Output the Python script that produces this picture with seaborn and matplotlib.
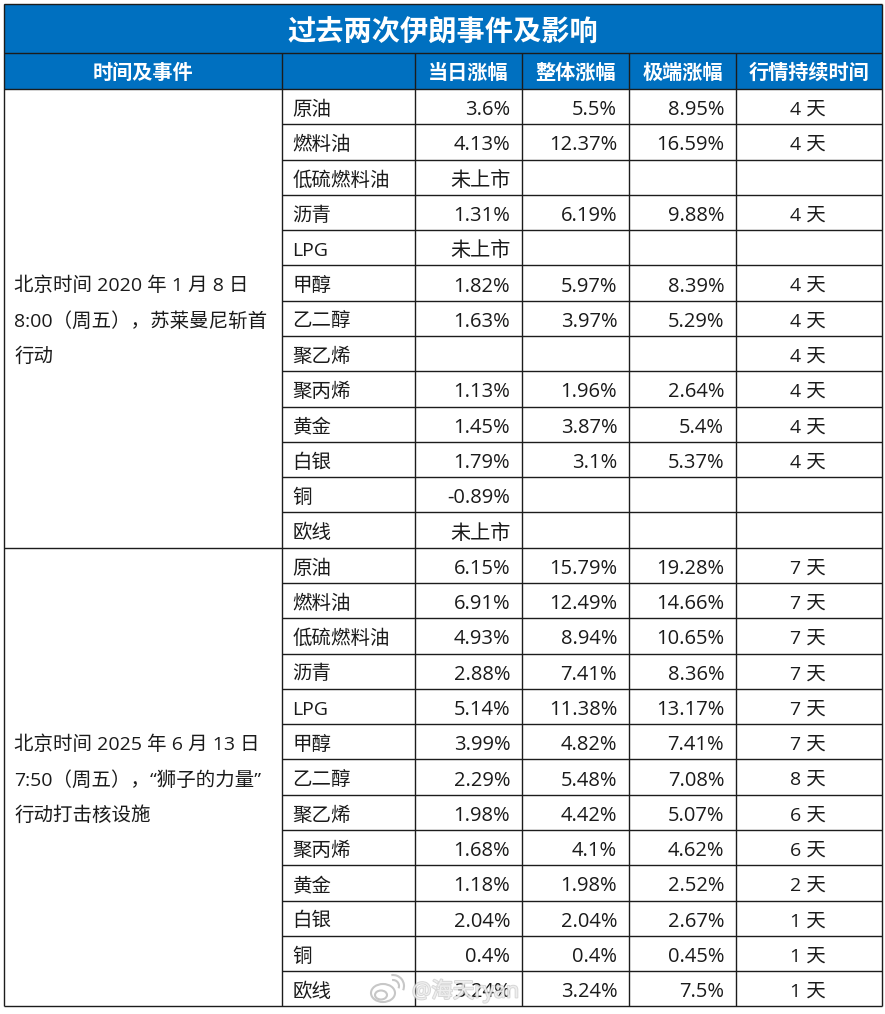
import numpy as np
import seaborn as sns
import matplotlib.pyplot as plt
import matplotlib.patheffects as pe
from matplotlib.colors import ListedColormap
from matplotlib.patches import Ellipse, Arc

# 数据
title = "过去两次伊朗事件及影响"
headers = ["时间及事件", "", "当日涨幅", "整体涨幅", "极端涨幅", "行情持续时间"]
event_1 = ["北京时间 2020 年 1 月 8 日", "8:00（周五），苏莱曼尼斩首", "行动"]
event_2 = ["北京时间 2025 年 6 月 13 日", "7:50（周五），“狮子的力量”", "行动打击核设施"]
products = ["原油", "燃料油", "低硫燃料油", "沥青", "LPG", "甲醇", "乙二醇",
            "聚乙烯", "聚丙烯", "黄金", "白银", "铜", "欧线"]

day_1 = ["3.6%", "4.13%", "未上市", "1.31%", "未上市", "1.82%", "1.63%",
         "", "1.13%", "1.45%", "1.79%", "-0.89%", "未上市"]
total_1 = ["5.5%", "12.37%", "", "6.19%", "", "5.97%", "3.97%",
           "", "1.96%", "3.87%", "3.1%", "", ""]
extreme_1 = ["8.95%", "16.59%", "", "9.88%", "", "8.39%", "5.29%",
             "", "2.64%", "5.4%", "5.37%", "", ""]
days_1 = ["4 天", "4 天", "", "4 天", "", "4 天", "4 天",
          "4 天", "4 天", "4 天", "4 天", "", ""]

day_2 = ["6.15%", "6.91%", "4.93%", "2.88%", "5.14%", "3.99%", "2.29%",
         "1.98%", "1.68%", "1.18%", "2.04%", "0.4%", "3.24%"]
total_2 = ["15.79%", "12.49%", "8.94%", "7.41%", "11.38%", "4.82%", "5.48%",
           "4.42%", "4.1%", "1.98%", "2.04%", "0.4%", "3.24%"]
extreme_2 = ["19.28%", "14.66%", "10.65%", "8.36%", "13.17%", "7.41%", "7.08%",
             "5.07%", "4.62%", "2.52%", "2.67%", "0.45%", "7.5%"]
days_2 = ["7 天", "7 天", "7 天", "7 天", "7 天", "7 天", "8 天",
          "6 天", "6 天", "2 天", "1 天", "1 天", "1 天"]

# 표 격자 (픽셀)
col_edges = [4, 282, 415, 522, 629, 736, 882]
n_body = len(products) * 2
row_edges = [4, 53, 89] + list(np.linspace(89, 1006.5, n_body + 1)[1:])

W, H = 885, 1014
BLUE = "#0070C0"
LINE = "#1c1c1c"
INK = "#1a1a1a"

sns.set_theme(style="white")
plt.rcParams["font.family"] = ["Open Sans", "Noto Sans CJK SC", "DejaVu Sans"]

fig = plt.figure(figsize=(W / 100, H / 100), dpi=100)
ax = fig.add_axes([col_edges[0] / W, 1 - row_edges[-1] / H,
                   (col_edges[-1] - col_edges[0]) / W,
                   (row_edges[-1] - row_edges[0]) / H])

# 배경 칠하기: 제목/헤더 행은 파란색
fill = np.zeros((n_body + 2, 6))
fill[:2, :] = 1
sns.heatmap(fill, ax=ax, cbar=False, cmap=ListedColormap(["white", BLUE]),
            vmin=0, vmax=1, xticklabels=False, yticklabels=False)

# 열/행 크기가 달라서 함수 스케일로 늘림
xi = np.arange(7)
yi = np.arange(n_body + 3)
ax.set_xscale("function", functions=(lambda v: np.interp(v, xi, col_edges),
                                     lambda v: np.interp(v, col_edges, xi)))
ax.set_yscale("function", functions=(lambda v: np.interp(v, yi, row_edges),
                                     lambda v: np.interp(v, row_edges, yi)))
ax.set_xlim(0, 6)
ax.set_ylim(n_body + 2, 0)
ax.tick_params(which="both", length=0, labelbottom=False, labelleft=False)
ax.minorticks_off()

# 선
lw = 1.0
ax.hlines([0, 1, 2, 15, n_body + 2], 0, 6, colors=LINE, lw=lw, clip_on=False)
ax.hlines([r for r in range(3, n_body + 2) if r != 15], 1, 6, colors=LINE, lw=lw, clip_on=False)
ax.vlines([0, 6], 0, n_body + 2, colors=LINE, lw=lw, clip_on=False)
ax.vlines([1, 2, 3, 4, 5], 1, n_body + 2, colors=LINE, lw=lw, clip_on=False)

# 글자
ax.text(0.5, 0.52, title, ha="center", va="center_baseline", fontsize=20.3,
        fontweight="bold", color="white", transform=ax.get_yaxis_transform())
for c, h in enumerate(headers):
    ax.text(c + 0.5, 1.5, h, ha="center", va="center_baseline", fontsize=14.5,
            fontweight="bold", color="white")


def put_left(col, row, s):
    ax.annotate(s, (col, row + 0.5), xytext=(7.5, -0.7), textcoords="offset points",
                ha="left", va="center_baseline", fontsize=14, color=INK)


def put_right(col, row, s):
    ax.annotate(s, (col + 1, row + 0.5), xytext=(-8.5, -0.7), textcoords="offset points",
                ha="right", va="center_baseline", fontsize=14.5, color=INK)


def put_center(col, row, s):
    ax.annotate(s, (col + 0.5, row + 0.5), xytext=(-1, -0.7), textcoords="offset points",
                ha="center", va="center_baseline", fontsize=14, color=INK)


groups = [(2, event_1, day_1, total_1, extreme_1, days_1),
          (15, event_2, day_2, total_2, extreme_2, days_2)]
for start, event, day, total, extreme, days in groups:
    for i, line in enumerate(event):
        put_left(0, start + 5 + i, line)
    for i, name in enumerate(products):
        r = start + i
        put_left(1, r, name)
        put_right(2, r, day[i])
        put_right(3, r, total[i])
        put_right(4, r, extreme[i])
        put_center(5, r, days[i])

# 워터마크
halo = [pe.withStroke(linewidth=1.4, foreground="#bdbdbd", alpha=0.6)]
fig.text(412 / W, 1 - 991 / H, "@海天ryan", fontsize=15.5, color="white", va="center",
         ha="left", alpha=0.6, path_effects=halo)
wm = dict(transform=fig.transFigure, lw=1.5, alpha=0.85)
fig.add_artist(Ellipse((383 / W, 1 - 993 / H), 24 / W, 18 / H, facecolor="white",
                       edgecolor="#bdbdbd", **wm))
fig.add_artist(Ellipse((381 / W, 1 - 995 / H), 12 / W, 9 / H, facecolor="none",
                       edgecolor="#bdbdbd", **wm))
fig.add_artist(Arc((393 / W, 1 - 986 / H), 12 / W, 12 / H, theta1=-20, theta2=100,
                   edgecolor="#bdbdbd", **wm))
fig.add_artist(Arc((393 / W, 1 - 986 / H), 22 / W, 22 / H, theta1=-20, theta2=100,
                   edgecolor="#bdbdbd", **wm))

fig.savefig("out.png", dpi=100, facecolor="white")
